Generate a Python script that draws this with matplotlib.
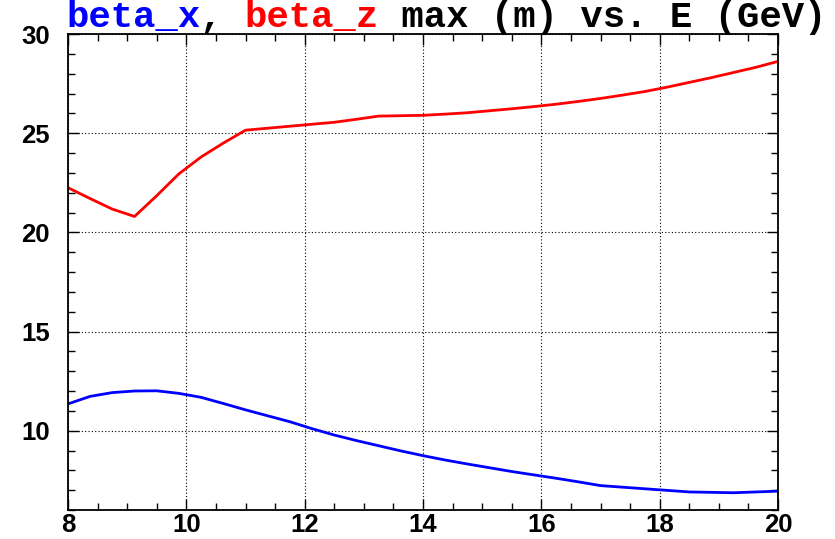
import matplotlib
matplotlib.use('Agg')
import matplotlib.pyplot as plt
from matplotlib.ticker import MultipleLocator

# energy points (GeV)
energy = [8.0, 8.375, 8.75, 9.125, 9.5, 9.875, 10.25, 10.625, 11.0, 11.375, 11.75,
          12.125, 12.5, 12.875, 13.25, 13.625, 14.0, 14.375, 14.75, 15.125, 15.5,
          15.875, 16.25, 16.625, 17.0, 17.375, 17.75, 18.125, 18.5, 18.875, 19.25,
          19.625, 20.0]

# max beta_z (m)
beta_z = [22.25, 21.7, 21.17, 20.8, 21.85, 22.95, 23.8, 24.5, 25.15, 25.25, 25.35,
          25.45, 25.55, 25.7, 25.86, 25.88, 25.9, 25.96, 26.03, 26.13, 26.23,
          26.34, 26.46, 26.6, 26.75, 26.92, 27.1, 27.32, 27.56, 27.8, 28.06,
          28.32, 28.62]

# max beta_x (m)
beta_x = [11.35, 11.73, 11.92, 12.0, 12.01, 11.88, 11.68, 11.37, 11.05, 10.75, 10.45,
          10.1, 9.78, 9.5, 9.24, 8.98, 8.74, 8.52, 8.32, 8.13, 7.94,
          7.77, 7.6, 7.42, 7.23, 7.15, 7.07, 6.99, 6.91, 6.89, 6.87,
          6.91, 6.95]

title_parts = [('beta_x', 'blue'), (', ', 'black'), ('beta_z', 'red'),
               (' max (m) vs. E (GeV)', 'black')]

W, H = 835, 539
fig = plt.figure(figsize=(W / 100, H / 100), dpi=100)
ax = fig.add_axes([68 / W, 1 - 510 / H, (778 - 68) / W, (510 - 34) / H])

ax.plot(energy, beta_z, color='red', lw=2)
ax.plot(energy, beta_x, color='blue', lw=2)

ax.set_xlim(8, 20)
ax.set_ylim(6, 30)
ax.xaxis.set_major_locator(MultipleLocator(2))
ax.xaxis.set_minor_locator(MultipleLocator(0.5))
ax.yaxis.set_major_locator(MultipleLocator(5))
ax.yaxis.set_minor_locator(MultipleLocator(1))

ax.grid(True, which='major', color='black', linestyle=(0, (1, 2)), lw=0.8)
ax.tick_params(which='both', direction='in', top=True, right=True, colors='black')
ax.tick_params(which='major', length=8, width=1)
ax.tick_params(which='minor', length=5, width=1)
ax.tick_params(axis='y', pad=13)
ax.tick_params(axis='x', pad=2.5)
for s in ax.spines.values():
    s.set_linewidth(1.3)

for lab in ax.get_xticklabels() + ax.get_yticklabels():
    lab.set_fontfamily('Liberation Sans')
    lab.set_fontweight('bold')
    lab.set_fontsize(18.5)

# coloured title, monospace so each piece starts at a fixed character offset
fsize = 26.8
adv = 0.6 * fsize * 100 / 72 / W
n = 0
for txt, col in title_parts:
    fig.text(66 / W + n * adv, 1 - 27 / H, txt, color=col, fontsize=fsize,
             fontfamily='Liberation Mono', fontweight='bold', va='baseline', ha='left')
    n += len(txt)

fig.savefig('out.png', dpi=100)
